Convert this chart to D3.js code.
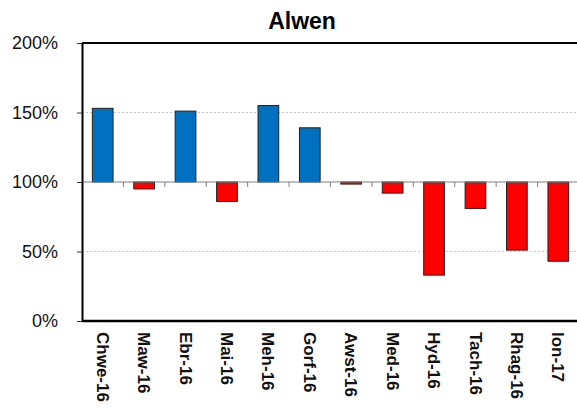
<!DOCTYPE html>
<html>
<head>
<meta charset="utf-8">
<script src="https://cdn.jsdelivr.net/npm/d3@7"></script>
<style>
  body { margin: 0; background: #fff; }
  svg { font-family: "Liberation Sans", Arial, sans-serif; }
</style>
</head>
<body>
<svg id="chart"></svg>
<script>
const months = ["Chwe-16", "Maw-16", "Ebr-16", "Mai-16", "Meh-16", "Gorf-16",
                "Awst-16", "Med-16", "Hyd-16", "Tach-16", "Rhag-16", "Ion-17"];
const values = [153, 95, 151, 86, 155, 139, 98.5, 92, 33, 81, 51, 43];
const yTicks = [0, 50, 100, 150, 200];

const svgWidth = 577, svgHeight = 409;
const margin = { top: 43, right: -2, bottom: 88, left: 82 };
const width = svgWidth - margin.left - margin.right;
const height = svgHeight - margin.top - margin.bottom;

const svg = d3.select("#chart")
  .attr("width", svgWidth)
  .attr("height", svgHeight)
  .append("g")
  .attr("transform", `translate(${margin.left},${margin.top})`);

const x = d3.scaleBand().domain(months).range([0, width]).paddingInner(0.5).paddingOuter(0.25);
const y = d3.scaleLinear().domain([0, 200]).range([height, 0]);

// dashed gridlines
svg.selectAll(".grid")
  .data([50, 150])
  .enter()
  .append("line")
  .attr("x1", 0).attr("x2", width)
  .attr("y1", d => y(d)).attr("y2", d => y(d))
  .attr("stroke", "#c8c8c8")
  .attr("stroke-dasharray", "2,2");

// top border
svg.append("line")
  .attr("x1", 0).attr("x2", width)
  .attr("y1", y(200)).attr("y2", y(200))
  .attr("stroke", "#000").attr("stroke-width", 2);

// bars from 100% baseline
svg.selectAll(".bar")
  .data(values)
  .enter()
  .append("rect")
  .attr("x", (d, i) => x(months[i]))
  .attr("width", x.bandwidth())
  .attr("y", d => y(Math.max(d, 100)))
  .attr("height", d => Math.abs(y(d) - y(100)))
  .attr("fill", d => d >= 100 ? "#0070c0" : "#ff0000")
  .attr("stroke", "#222")
  .attr("stroke-width", 1);

// baseline at 100% with category ticks
svg.append("line")
  .attr("x1", 0).attr("x2", width)
  .attr("y1", y(100)).attr("y2", y(100))
  .attr("stroke", "#808080").attr("stroke-width", 1.2);

svg.selectAll(".ctick")
  .data(months.slice(1))
  .enter()
  .append("line")
  .attr("x1", d => x(d) - x.step() * x.paddingInner() / 2)
  .attr("x2", d => x(d) - x.step() * x.paddingInner() / 2)
  .attr("y1", y(100)).attr("y2", y(100) + 5)
  .attr("stroke", "#808080");

// y axis
const yAxis = svg.append("g")
  .call(d3.axisLeft(y).tickValues(yTicks).tickFormat(d => d + "%").tickSize(5).tickSizeOuter(0));
yAxis.select(".domain").attr("stroke-width", 2);
yAxis.selectAll("text")
  .attr("font-size", "18px")
  .attr("fill", "#111")
  .attr("dx", "-16px");
yAxis.selectAll("line").attr("stroke", "#333");

// x axis at 0%
svg.append("line")
  .attr("x1", 0).attr("x2", width)
  .attr("y1", y(0)).attr("y2", y(0))
  .attr("stroke", "#000").attr("stroke-width", 2.5);

svg.selectAll(".xlabel")
  .data(months)
  .enter()
  .append("text")
  .attr("transform", d => `translate(${x(d) + x.bandwidth() / 2},${height + 11}) rotate(90)`)
  .attr("dy", "0.35em")
  .attr("text-anchor", "start")
  .attr("font-size", "17px")
  .attr("font-weight", "bold")
  .attr("fill", "#111")
  .text(d => d);

// title
svg.append("text")
  .attr("x", 302 - margin.left)
  .attr("y", 29 - margin.top)
  .attr("text-anchor", "middle")
  .attr("font-size", "23px")
  .attr("font-weight", "bold")
  .text("Alwen");
</script>
</body>
</html>
